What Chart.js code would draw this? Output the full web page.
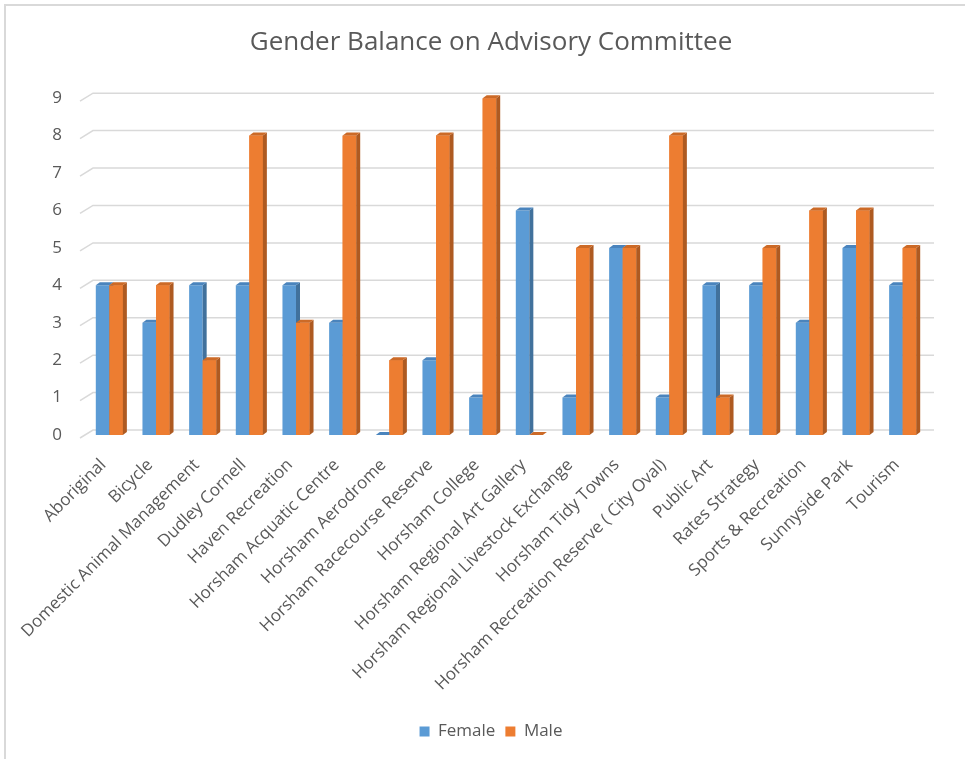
<!DOCTYPE html>
<html>
<head>
<meta charset="utf-8">
<title>Gender Balance on Advisory Committee</title>
<script src="https://cdn.jsdelivr.net/npm/chart.js@4.4.1/dist/chart.umd.min.js"></script>
<style>
  html, body { margin: 0; padding: 0; background: #fff; }
  #wrap { position: relative; width: 965px; height: 759px; }
  #frame { position: absolute; left: 4px; top: 4px; right: 0; bottom: 0;
           border-left: 2px solid #d9d9d9; border-top: 2px solid #d9d9d9; pointer-events: none; }
</style>
</head>
<body>
<div id="wrap">
  <canvas id="genderChart" width="965" height="759"></canvas>
  <div id="frame"></div>
</div>
<script>
'use strict';

const committees = ['Aboriginal', 'Bicycle', 'Domestic Animal Management', 'Dudley Cornell',
    'Haven Recreation', 'Horsham Acquatic Centre', 'Horsham Aerodrome', 'Horsham Racecourse Reserve',
    'Horsham College', 'Horsham Regional Art Gallery', 'Horsham Regional Livestock Exchange',
    'Horsham Tidy Towns', 'Horsham Recreation Reserve ( City Oval)', 'Public Art', 'Rates Strategy',
    'Sports & Recreation', 'Sunnyside Park', 'Tourism'];
const female = [4, 3, 4, 4, 4, 3, 0, 2, 1, 6, 1, 5, 1, 4, 4, 3, 5, 4];
const male = [4, 4, 2, 8, 3, 8, 2, 8, 9, 0, 5, 5, 8, 1, 5, 6, 6, 5];
const yTicks = [0, 1, 2, 3, 4, 5, 6, 7, 8, 9];

const BLUE = '#5b9bd5', BLUE_SIDE = '#41719c', BLUE_TOP = '#4a84bd';
const ORANGE = '#ed7d31', ORANGE_SIDE = '#ae5a21', ORANGE_TOP = '#cc6a27';
const TEXT = '#595959';

Chart.defaults.font.family = "'Open Sans', sans-serif";
Chart.defaults.color = TEXT;

// draw the side and top faces of a bar so it looks like excel's 3d columns
function drawFaces(ctx, bar, side, top) {
    const p = bar.getProps(['x', 'y', 'base', 'width'], true);
    const l = p.x - p.width / 2, r = p.x + p.width / 2;
    const dx = 4, dy = 3;
    ctx.fillStyle = side;
    ctx.beginPath();
    ctx.moveTo(r, p.y);
    ctx.lineTo(r + dx, p.y - dy);
    ctx.lineTo(r + dx, p.base - dy);
    ctx.lineTo(r, p.base);
    ctx.closePath();
    ctx.fill();
    ctx.fillStyle = top;
    ctx.beginPath();
    ctx.moveTo(l, p.y);
    ctx.lineTo(l + dx, p.y - dy);
    ctx.lineTo(r + dx, p.y - dy);
    ctx.lineTo(r, p.y);
    ctx.closePath();
    ctx.fill();
}

const bars3d = {
    id: 'bars3d',
    beforeDatasetsDraw(chart) {
        const ctx = chart.ctx;
        const y = chart.scales.y;
        const area = chart.chartArea;
        ctx.save();
        ctx.strokeStyle = '#d9d9d9';
        ctx.lineWidth = 1.5;
        yTicks.forEach(v => {
            const py = y.getPixelForValue(v);
            ctx.beginPath();
            ctx.moveTo(area.left - 6, py + 3);
            ctx.lineTo(area.left + 7, py - 5);
            ctx.lineTo(area.right + 8, py - 5);
            ctx.stroke();
        });
        ctx.restore();
    },
    afterDatasetsDraw(chart) {
        const ctx = chart.ctx;
        const fBars = chart.getDatasetMeta(0).data;
        const mBars = chart.getDatasetMeta(1).data;
        ctx.save();
        fBars.forEach((fb, i) => {
            drawFaces(ctx, fb, BLUE_SIDE, BLUE_TOP);
            // male front goes over the female side face
            const mb = mBars[i];
            const p = mb.getProps(['x', 'y', 'base', 'width'], true);
            ctx.fillStyle = ORANGE;
            ctx.fillRect(p.x - p.width / 2, p.y, p.width, p.base - p.y);
            drawFaces(ctx, mb, ORANGE_SIDE, ORANGE_TOP);
        });
        ctx.restore();
    }
};

const CHART = document.getElementById('genderChart');

new Chart(CHART, {
    type: 'bar',
    data: {
        labels: committees,
        datasets: [
            { label: 'Female', data: female, backgroundColor: BLUE, barPercentage: 1, categoryPercentage: 0.58 },
            { label: 'Male', data: male, backgroundColor: ORANGE, barPercentage: 1, categoryPercentage: 0.58 }
        ]
    },
    options: {
        responsive: false,
        animation: false,
        layout: { padding: { left: 17, right: 0, top: 0, bottom: 9 } },
        plugins: {
            title: {
                display: true,
                text: 'Gender Balance on Advisory Committee',
                color: TEXT,
                font: { size: 26, weight: 'normal' },
                padding: { top: 27, bottom: 40 }
            },
            legend: {
                position: 'bottom',
                labels: { boxWidth: 10, boxHeight: 10, color: TEXT, font: { size: 17 }, padding: 10 }
            },
            tooltip: { enabled: false }
        },
        scales: {
            x: {
                grid: { display: false, drawTicks: false },
                border: { display: false },
                ticks: { autoSkip: false, minRotation: 45, maxRotation: 45, padding: 20, labelOffset: -6, font: { size: 17 }, color: TEXT },
                afterFit(s) { s.height = 278; }
            },
            y: {
                min: 0,
                max: 9,
                grid: { display: false, drawTicks: false },
                border: { display: false },
                ticks: { stepSize: 1, padding: 24, font: { size: 17 }, color: TEXT },
                afterFit(s) { s.width = 69; }
            },
            // empty axis on the right, only to leave the gap Excel leaves there
            yRight: {
                position: 'right',
                grid: { display: false, drawTicks: false },
                border: { display: false },
                ticks: { display: false },
                afterFit(s) { s.width = 39; }
            }
        }
    },
    plugins: [bars3d]
});
</script>
</body>
</html>
